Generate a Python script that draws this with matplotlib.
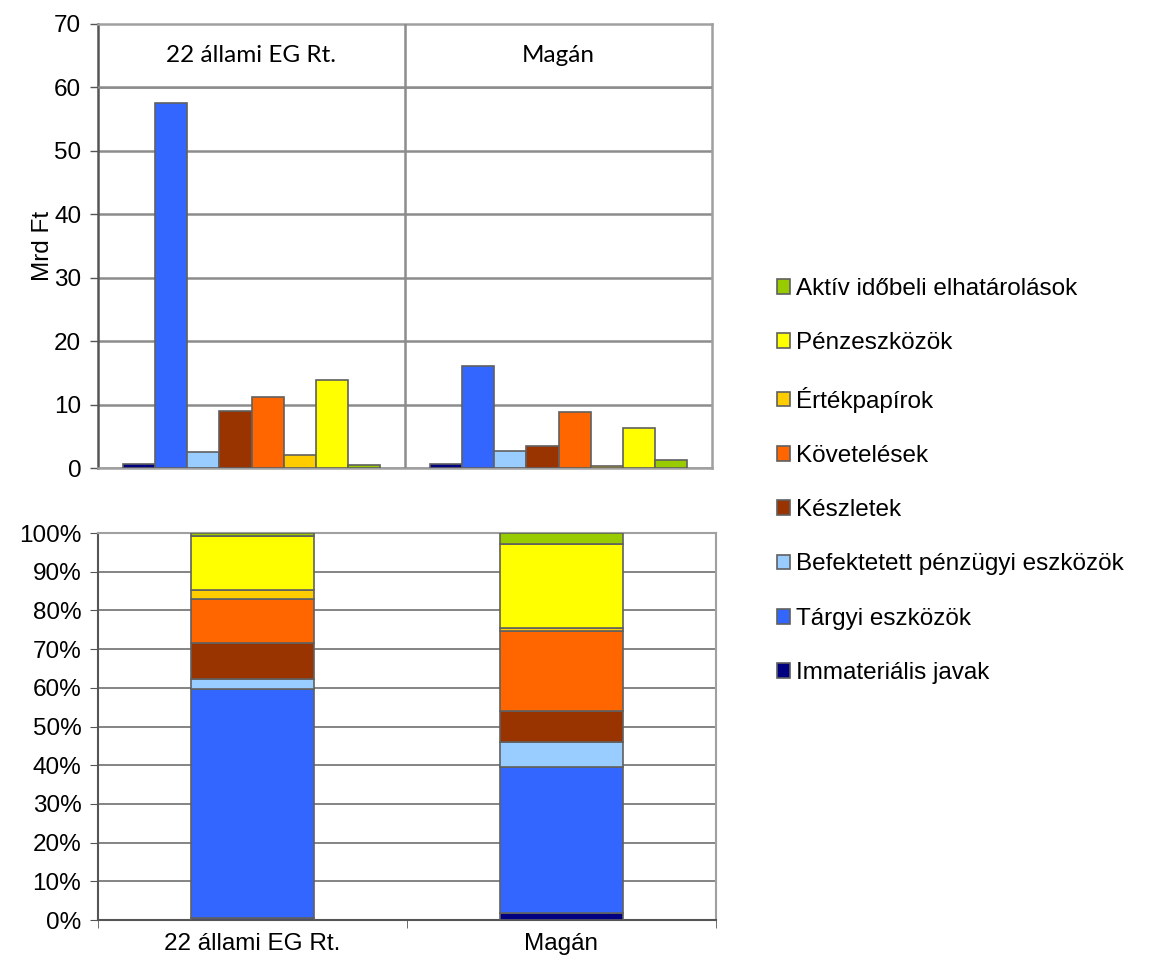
import numpy as np
import matplotlib.pyplot as plt
from matplotlib.patches import Rectangle

plt.rcParams['font.family'] = ['Liberation Sans', 'DejaVu Sans']

# ADATOK
csoportok = ["22 állami EG Rt.", "Magán"]
tetelek = ["Immateriális javak", "Tárgyi eszközök", "Befektetett pénzügyi eszközök",
           "Készletek", "Követelések", "Értékpapírok", "Pénzeszközök",
           "Aktív időbeli elhatárolások"]
szinek = ["#000080", "#3366FF", "#99CCFF", "#993300", "#FF6600", "#FFCC00",
          "#FFFF00", "#99CC00"]

# Mrd Ft (felső ábra)
allami_mrd = [0.7, 57.6, 2.6, 9.0, 11.2, 2.05, 13.9, 0.5]
magan_mrd = [0.7, 16.1, 2.7, 3.5, 8.8, 0.37, 6.25, 1.2]

# megoszlás % (alsó ábra)
allami_pct = [0.6, 59.1, 2.6, 9.3, 11.4, 2.2, 13.9, 0.9]
magan_pct = [1.7, 37.8, 6.4, 8.2, 20.5, 0.8, 21.8, 2.8]

W, H = 1159, 963
fig = plt.figure(figsize=(W / 100, H / 100), dpi=100)

def px(x0, y0, x1, y1):
    return [x0 / W, 1 - y1 / H, (x1 - x0) / W, (y1 - y0) / H]

FS = 17.5
edge = "#606060"
grid_c = "#8c8c8c"

# FELSŐ ÁBRA
ax1 = fig.add_axes(px(98, 24, 712, 468))
n = len(tetelek)
bw = 0.105
for i in range(n):
    xs = np.arange(2) + (i - (n - 1) / 2) * bw
    ax1.bar(xs, [allami_mrd[i], magan_mrd[i]], width=bw, color=szinek[i],
            edgecolor=edge, linewidth=1.2, zorder=3, label=tetelek[i])
ax1.set_xlim(-0.5, 1.5)
ax1.set_ylim(0, 70)
ax1.set_yticks(range(0, 71, 10))
ax1.set_xticks([])
ax1.yaxis.grid(True, color=grid_c, linewidth=1.8, zorder=0)
for s in ax1.spines.values():
    s.set_color("#a0a0a0")
    s.set_linewidth(1.8)
ax1.spines["left"].set_color("#555555")
ax1.tick_params(axis="y", direction="out", length=6, width=1, color="#555555",
                labelsize=FS, pad=6)
ax1.set_ylabel("Mrd Ft", fontsize=FS, labelpad=0)
# fejléc
for j, c in enumerate(csoportok):
    ax1.add_patch(Rectangle((j - 0.5, 60), 1, 10, facecolor="white",
                            edgecolor="none", zorder=2.5))
    ax1.text(j, 65, c, ha="center", va="center", fontsize=FS,
             family=["Lato", "DejaVu Sans"], zorder=4)
ax1.axhline(60, color=grid_c, linewidth=1.8, zorder=2.6)
ax1.axvline(0.5, color=grid_c, linewidth=1.8, zorder=2.6)

# ALSÓ ÁBRA
ax2 = fig.add_axes(px(98, 533, 716, 920))
alja = np.zeros(2)
for i in range(n):
    vals = np.array([allami_pct[i], magan_pct[i]])
    ax2.bar([0, 1], vals, bottom=alja, width=0.40, color=szinek[i],
            edgecolor=edge, linewidth=1.2, zorder=3)
    alja += vals
ax2.set_xlim(-0.5, 1.5)
ax2.set_ylim(0, 100)
ax2.set_yticks(range(0, 101, 10))
ax2.set_yticklabels([f"{v}%" for v in range(0, 101, 10)])
ax2.set_xticks([0, 1])
ax2.set_xticklabels(csoportok)
ax2.set_xticks([-0.5, 0.5, 1.5], minor=True)
ax2.tick_params(axis="x", which="major", length=0, labelsize=FS, pad=9)
ax2.tick_params(axis="x", which="minor", direction="out", length=6, color="#555555")
ax2.tick_params(axis="y", direction="out", length=6, color="#555555",
                labelsize=FS, pad=6)
ax2.yaxis.grid(True, color="#707070", linewidth=1.2, zorder=0)
for s in ax2.spines.values():
    s.set_color("#a0a0a0")
    s.set_linewidth(1.5)
ax2.spines["left"].set_color("#555555")
ax2.spines["bottom"].set_color("#555555")

# JELMAGYARÁZAT
h, l = ax1.get_legend_handles_labels()
fig.legend(h[::-1], l[::-1], loc="center left", bbox_to_anchor=(777 / W, 1 - 481 / H),
           frameon=False, fontsize=FS, handlelength=0.55, handleheight=0.55,
           handletextpad=0.25, labelspacing=1.33, borderpad=0, borderaxespad=0)

plt.savefig("out.png", dpi=100)
plt.close()
